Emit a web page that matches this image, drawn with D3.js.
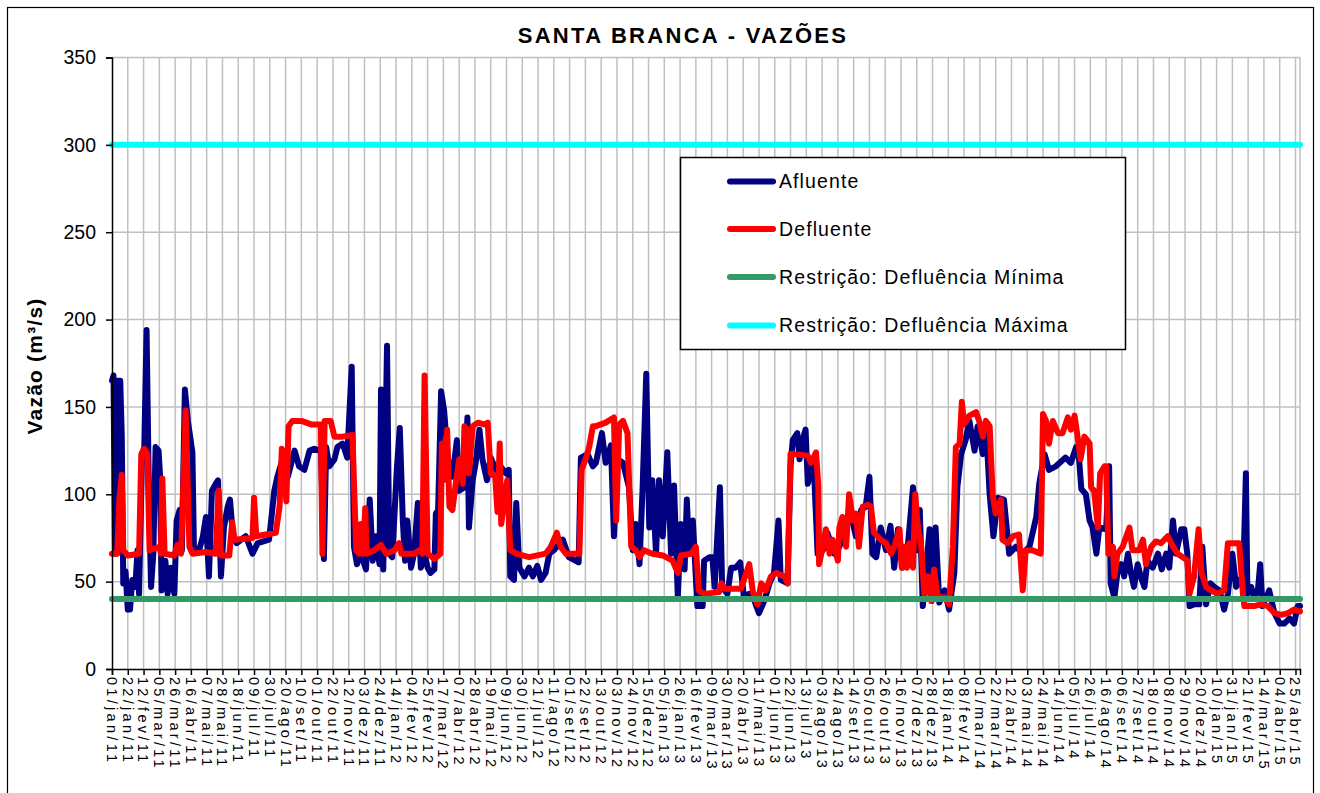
<!DOCTYPE html>
<html>
<head>
<meta charset="utf-8">
<title>Santa Branca - Vazões</title>
<script src="https://d3js.org/d3.v7.min.js"></script>
<style type="text/css">
body {
  margin: 0;
  background: #fff;
  font-family: "Liberation Sans", Arial, sans-serif;
}
.grid line {
  stroke: #c0c0c0;
  stroke-width: 1.5;
}
.serie {
  fill: none;
  stroke-width: 6;
  stroke-linejoin: round;
  stroke-linecap: round;
}
</style>
</head>
<body>
<div id="chart"></div>

<script>

// dias contados a partir de 01/jan/11
var afluenteDia = [0,2,4,7,11,13,15,18,21,24,27,31,34,36,40,43,46,49,52,55,58,62,64,66,71,74,78,83,86,90,93,97,101,107,109,116,121,125,129,133,138,141,145,149,154,157,161,166,178,187,194,209,216,220,227,234,243,249,256,263,269,278,282,285,289,296,300,307,313,319,322,326,331,338,343,347,351,356,358,361,366,369,373,379,383,387,390,393,398,402,407,411,416,420,424,429,431,434,438,442,447,453,459,462,469,473,475,480,484,489,493,499,504,511,517,524,528,530,535,538,542,549,555,560,566,571,577,582,588,600,608,621,624,633,640,644,652,657,664,668,673,680,688,693,697,702,706,711,715,719,724,728,733,739,744,748,753,757,762,765,768,773,779,786,788,795,799,802,809,812,819,824,830,836,841,848,855,861,868,875,881,887,890,899,903,906,912,915,919,923,926,931,935,939,946,952,961,968,975,983,990,997,1003,1008,1012,1017,1023,1030,1036,1041,1046,1052,1059,1066,1072,1075,1079,1083,1088,1091,1096,1101,1108,1114,1121,1125,1130,1136,1141,1148,1152,1159,1163,1168,1173,1179,1187,1194,1203,1212,1221,1230,1234,1241,1247,1256,1269,1276,1283,1287,1290,1296,1301,1305,1310,1314,1323,1327,1329,1334,1338,1343,1347,1352,1356,1360,1365,1369,1374,1378,1385,1392,1397,1403,1407,1412,1416,1423,1427,1431,1434,1440,1447,1451,1456,1462,1467,1474,1480,1485,1491,1496,1500,1505,1509,1511,1516,1520,1525,1528,1531,1536,1540,1547,1554,1560,1567,1573,1578,1581];
var afluente = [165,168,66,165,165,133,49,56,34,34,51,47,68,43,123,127,194,104,47,66,127,125,110,45,62,43,58,43,85,91,68,160,142,124,70,68,76,87,53,102,106,108,53,81,93,97,76,72,76,66,72,74,102,110,120,110,125,116,114,125,126,125,63,127,116,120,127,129,121,173,70,60,66,57,97,62,76,60,160,57,185,66,64,114,138,85,62,85,58,66,95,58,66,58,55,57,89,91,159,148,120,110,131,102,104,144,81,108,118,137,120,108,121,114,116,112,114,53,51,95,58,53,58,53,59,51,55,66,68,74,64,61,121,123,116,118,135,118,128,76,120,118,104,68,83,60,102,169,81,108,66,108,76,124,66,105,41,83,57,97,66,85,36,36,62,64,64,47,104,47,43,58,58,61,41,43,39,32,39,49,55,85,51,49,116,131,135,120,131,137,106,118,106,66,68,78,66,70,78,89,76,91,93,110,66,64,81,68,82,58,80,58,70,104,68,91,36,55,80,39,81,38,45,34,55,104,123,131,142,125,139,123,140,100,76,98,97,66,70,66,70,87,106,123,114,116,121,118,127,120,103,100,85,81,66,81,80,116,49,41,55,60,53,66,55,47,60,53,47,62,58,66,57,66,58,85,66,80,80,66,36,37,37,70,37,49,47,45,34,43,66,47,51,47,112,43,47,41,45,60,36,41,45,32,26,26,29,26,36,36];

var defluenteDia = [0,7,10,13,15,21,36,39,43,47,50,63,65,67,70,83,87,92,98,103,107,125,138,142,145,156,160,163,187,189,192,218,223,226,229,232,235,240,252,265,278,280,283,291,296,307,320,325,329,331,334,337,339,349,358,365,376,382,385,402,409,413,416,420,429,437,439,441,446,449,453,458,462,467,469,473,475,480,487,495,500,504,510,513,516,518,522,526,530,538,555,577,584,592,597,604,622,625,631,635,640,644,657,668,671,675,680,686,691,697,702,708,719,733,746,753,757,771,777,781,788,808,811,815,837,848,853,859,864,870,877,884,895,899,903,908,926,930,937,940,941,946,950,955,959,966,968,972,977,981,986,990,994,999,1006,1010,1014,1023,1030,1037,1041,1048,1051,1054,1058,1061,1066,1069,1072,1077,1081,1086,1090,1094,1099,1108,1114,1119,1123,1128,1131,1134,1141,1150,1154,1159,1163,1168,1172,1176,1183,1185,1192,1199,1207,1212,1216,1225,1236,1239,1243,1247,1252,1259,1265,1272,1276,1281,1285,1289,1294,1301,1303,1307,1312,1315,1321,1323,1326,1332,1334,1338,1345,1354,1358,1367,1372,1376,1383,1389,1396,1405,1412,1418,1425,1431,1434,1440,1446,1450,1456,1463,1471,1480,1485,1494,1500,1505,1507,1520,1529,1538,1547,1556,1565,1573,1581];
var defluente = [66,66,98,111,68,65,66,123,126,123,68,70,66,109,66,65,71,66,148,70,66,67,66,102,65,65,84,74,75,98,76,78,93,126,116,96,139,142,142,140,140,66,142,142,133,133,134,68,66,83,66,92,66,68,71,66,68,72,66,66,68,66,168,66,63,66,129,108,137,93,91,108,120,106,139,137,112,139,141,140,141,112,110,90,129,83,97,108,68,66,64,66,70,78,70,66,66,114,121,127,139,139,141,144,85,140,142,135,70,68,64,68,66,65,62,55,65,66,70,45,43,44,49,46,46,60,44,37,49,45,53,55,53,49,123,123,122,118,124,104,60,70,80,66,74,62,81,87,70,100,85,89,70,93,94,93,78,74,72,66,70,80,58,70,58,72,58,100,83,70,43,53,39,57,41,41,37,70,127,129,153,140,145,147,142,133,142,139,100,89,97,74,72,76,77,45,68,68,66,146,142,129,142,135,135,144,137,145,133,120,133,129,104,102,81,112,116,116,66,70,53,66,70,81,68,68,74,60,70,73,72,76,70,66,64,62,43,53,80,55,47,45,43,45,72,72,72,43,36,36,37,36,32,31,32,34,33];

var restricaoMinima = [40, 40];
var restricaoMaxima = [300, 300];

var yTicks = [0, 50, 100, 150, 200, 250, 300, 350];
var meses = ["jan","fev","mar","abr","mai","jun","jul","ago","set","out","nov","dez"];
var passoTick = 21;        // um rótulo a cada 21 dias
var ultimoTick = 1575;     // 25/abr/15

var inicio = new Date(2011, 0, 1);
var fim = new Date(2015, 4, 1);

var legenda = [
  {nome: "Afluente", cor: "#000080"},
  {nome: "Defluente", cor: "#ff0000"},
  {nome: "Restrição: Defluência Mínima", cor: "#339966"},
  {nome: "Restrição: Defluência Máxima", cor: "#00ffff"}
];

var W = 1320, H = 793;
var plot = {left: 112, right: 1300, top: 57.5, bottom: 669};

var dia = function(d) { return d3.timeDay.offset(inicio, d); };

var xScale = d3.scaleTime()
    .domain([inicio, fim])
    .range([plot.left, plot.right]);

var yScale = d3.scaleLinear()
    .domain([0, 350])
    .range([plot.bottom, plot.top]);

var tickDatas = d3.range(0, ultimoTick + 1, passoTick).map(dia);
var rotulo = function(d) {
  return d3.timeFormat("%d")(d) + "/" + meses[d.getMonth()] + "/" + d3.timeFormat("%y")(d);
};

var svg = d3.select("#chart").append("svg")
    .attr("width", W)
    .attr("height", H);

// moldura externa
svg.append("rect")
    .attr("x", 7.5).attr("y", 7.5)
    .attr("width", 1306).attr("height", 800)
    .attr("fill", "#fff")
    .attr("stroke", "#000")
    .attr("stroke-width", 1.2);

// grade
var grid = svg.append("g").attr("class", "grid");
grid.selectAll(".v")
    .data(tickDatas.slice(1))
  .enter().append("line")
    .attr("x1", function(d) { return xScale(d); })
    .attr("x2", function(d) { return xScale(d); })
    .attr("y1", plot.top)
    .attr("y2", plot.bottom);
grid.selectAll(".h")
    .data(yTicks.slice(1))
  .enter().append("line")
    .attr("x1", plot.left)
    .attr("x2", plot.right)
    .attr("y1", function(d) { return yScale(d); })
    .attr("y2", function(d) { return yScale(d); });
grid.append("line")
    .attr("x1", plot.right).attr("x2", plot.right)
    .attr("y1", plot.top).attr("y2", plot.bottom);

// series
var line = d3.line()
    .x(function(d) { return xScale(d[0]); })
    .y(function(d) { return yScale(d[1]); });

var serieAfluente = afluenteDia.map(function(d, i) { return [dia(d), afluente[i]]; });
var serieDefluente = defluenteDia.map(function(d, i) { return [dia(d), defluente[i]]; });
var serieMin = [[inicio, restricaoMinima[0]], [fim, restricaoMinima[1]]];
var serieMax = [[inicio, restricaoMaxima[0]], [fim, restricaoMaxima[1]]];

[serieAfluente, serieDefluente, serieMin, serieMax].forEach(function(s, i) {
  svg.append("path")
      .datum(s)
      .attr("class", "serie")
      .attr("stroke", legenda[i].cor)
      .attr("stroke-linecap", i > 1 ? "butt" : "round")
      .attr("d", line);
});

// eixo y
var yAxis = svg.append("g")
    .attr("transform", "translate(" + plot.left + ",0)")
    .call(d3.axisLeft(yScale).tickValues(yTicks).tickSize(6).tickPadding(10));
yAxis.select(".domain").attr("stroke", "#000").attr("stroke-width", 1.5);
yAxis.selectAll(".tick line").attr("stroke", "#000").attr("stroke-width", 1.5);
yAxis.selectAll(".tick text")
    .style("font-family", "Liberation Sans, Arial, sans-serif")
    .style("font-size", "19.5px")
    .attr("fill", "#000");

// eixo x
var xAxis = svg.append("g")
    .attr("transform", "translate(0," + plot.bottom + ")")
    .call(d3.axisBottom(xScale).tickValues(tickDatas).tickSize(6).tickFormat(""));
xAxis.select(".domain").attr("stroke", "#000").attr("stroke-width", 1.5);
xAxis.selectAll(".tick line").attr("stroke", "#000").attr("stroke-width", 1.5);

svg.append("g").selectAll("text")
    .data(tickDatas)
  .enter().append("text")
    .attr("transform", function(d) { return "translate(" + xScale(d) + "," + (plot.bottom + 8) + ") rotate(90)"; })
    .attr("dy", "0.35em")
    .style("font-family", "Liberation Sans, Arial, sans-serif")
    .style("font-size", "14.5px")
    .style("letter-spacing", "3.3px")
    .text(rotulo);

// titulo
svg.append("text")
    .attr("x", 683)
    .attr("y", 43)
    .attr("text-anchor", "middle")
    .style("font-size", "22px")
    .style("font-weight", "bold")
    .style("letter-spacing", "2.3px")
    .text("SANTA BRANCA - VAZÕES");

svg.append("text")
    .attr("transform", "translate(42,366) rotate(-90)")
    .attr("text-anchor", "middle")
    .style("font-size", "21px")
    .style("font-weight", "bold")
    .style("letter-spacing", "1.2px")
    .text("Vazão (m³/s)");

// legenda
var leg = svg.append("g");
leg.append("rect")
    .attr("x", 680.5).attr("y", 157.5)
    .attr("width", 445).attr("height", 192)
    .attr("fill", "#fff")
    .attr("stroke", "#000")
    .attr("stroke-width", 1.5);

var itens = leg.selectAll(".item")
    .data(legenda)
  .enter().append("g")
    .attr("transform", function(d, i) { return "translate(0," + [181.5, 229, 277, 325.5][i] + ")"; });
itens.append("line")
    .attr("x1", 730).attr("x2", 773)
    .attr("stroke", function(d) { return d.cor; })
    .attr("stroke-width", 6)
    .attr("stroke-linecap", "round");
itens.append("text")
    .attr("x", 779)
    .attr("dy", "0.35em")
    .style("font-size", "19.5px")
    .style("letter-spacing", "1.1px")
    .text(function(d) { return d.nome; });

</script>
</body>
</html>
